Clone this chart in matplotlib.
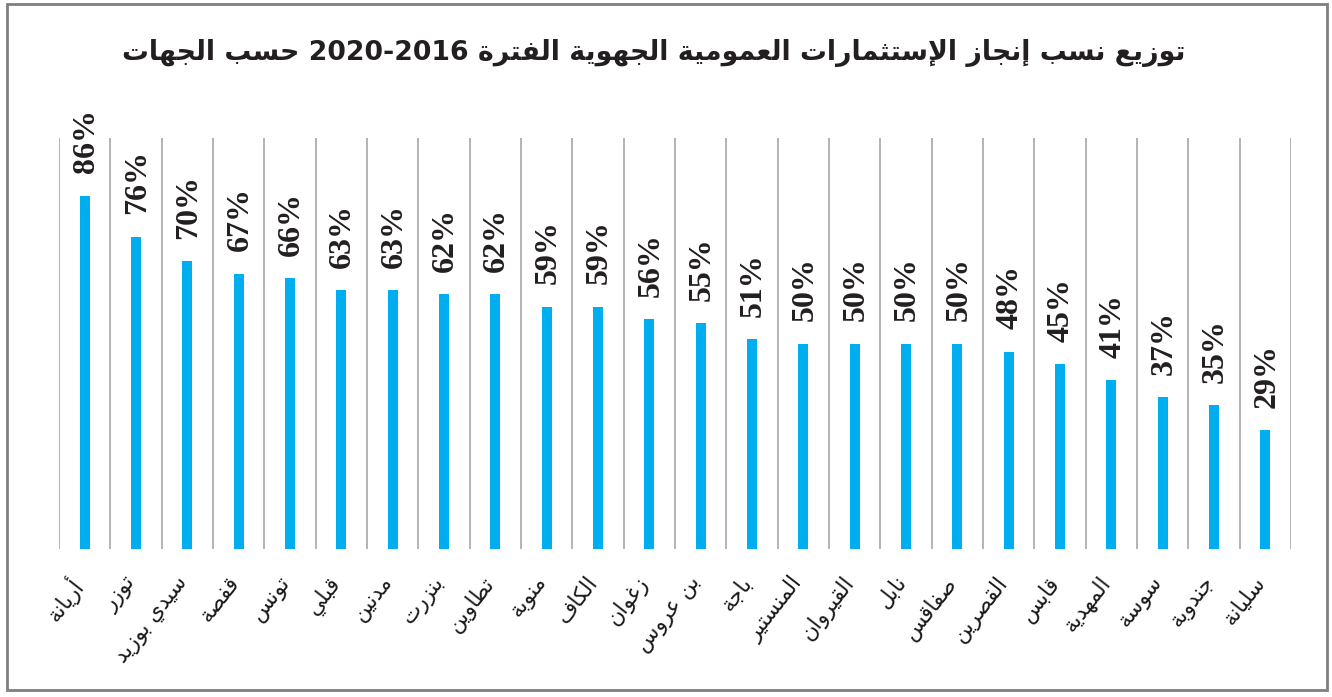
import re
import numpy as np
import matplotlib
matplotlib.use("Agg")
import matplotlib.pyplot as plt
from matplotlib.patches import Rectangle

# ---------------- data ----------------
title_text = "توزيع نسب إنجاز الإستثمارات العمومية الجهوية الفترة 2016-2020 حسب الجهات"
categories = ["أريانة", "توزر", "سيدي بوزيد", "قفصة", "تونس", "قبلي", "مدنين", "بنزرت",
              "تطاوين", "منوبة", "الكاف", "زغوان", "بن عروس", "باجة", "المنستير", "القيروان",
              "نابل", "صفاقس", "القصرين", "قابس", "المهدية", "سوسة", "جندوبة", "سليانة"]
values = [86, 76, 70, 67, 66, 63, 63, 62, 62, 59, 59, 56, 55, 51, 50, 50, 50, 50, 48, 45, 41, 37, 35, 29]
value_labels = [f"{v}%" for v in values]

# ---------------- minimal Arabic shaping (presentation forms) ----------------
FORMS = {
    'ء': (0xFE80,), 'آ': (0xFE81, 0xFE82), 'أ': (0xFE83, 0xFE84), 'ؤ': (0xFE85, 0xFE86),
    'إ': (0xFE87, 0xFE88), 'ئ': (0xFE89, 0xFE8A, 0xFE8B, 0xFE8C), 'ا': (0xFE8D, 0xFE8E),
    'ب': (0xFE8F, 0xFE90, 0xFE91, 0xFE92), 'ة': (0xFE93, 0xFE94),
    'ت': (0xFE95, 0xFE96, 0xFE97, 0xFE98), 'ث': (0xFE99, 0xFE9A, 0xFE9B, 0xFE9C),
    'ج': (0xFE9D, 0xFE9E, 0xFE9F, 0xFEA0), 'ح': (0xFEA1, 0xFEA2, 0xFEA3, 0xFEA4),
    'خ': (0xFEA5, 0xFEA6, 0xFEA7, 0xFEA8), 'د': (0xFEA9, 0xFEAA), 'ذ': (0xFEAB, 0xFEAC),
    'ر': (0xFEAD, 0xFEAE), 'ز': (0xFEAF, 0xFEB0), 'س': (0xFEB1, 0xFEB2, 0xFEB3, 0xFEB4),
    'ش': (0xFEB5, 0xFEB6, 0xFEB7, 0xFEB8), 'ص': (0xFEB9, 0xFEBA, 0xFEBB, 0xFEBC),
    'ض': (0xFEBD, 0xFEBE, 0xFEBF, 0xFEC0), 'ط': (0xFEC1, 0xFEC2, 0xFEC3, 0xFEC4),
    'ظ': (0xFEC5, 0xFEC6, 0xFEC7, 0xFEC8), 'ع': (0xFEC9, 0xFECA, 0xFECB, 0xFECC),
    'غ': (0xFECD, 0xFECE, 0xFECF, 0xFED0), 'ف': (0xFED1, 0xFED2, 0xFED3, 0xFED4),
    'ق': (0xFED5, 0xFED6, 0xFED7, 0xFED8), 'ك': (0xFED9, 0xFEDA, 0xFEDB, 0xFEDC),
    'ل': (0xFEDD, 0xFEDE, 0xFEDF, 0xFEE0), 'م': (0xFEE1, 0xFEE2, 0xFEE3, 0xFEE4),
    'ن': (0xFEE5, 0xFEE6, 0xFEE7, 0xFEE8), 'ه': (0xFEE9, 0xFEEA, 0xFEEB, 0xFEEC),
    'و': (0xFEED, 0xFEEE), 'ى': (0xFEEF, 0xFEF0), 'ي': (0xFEF1, 0xFEF2, 0xFEF3, 0xFEF4),
}
LAMALEF = {'آ': (0xFEF5, 0xFEF6), 'أ': (0xFEF7, 0xFEF8), 'إ': (0xFEF9, 0xFEFA), 'ا': (0xFEFB, 0xFEFC)}


def _joins_prev(t):
    return isinstance(t, tuple) or (t in FORMS and len(FORMS[t]) >= 2)


def _joins_next(t):
    return (not isinstance(t, tuple)) and t in FORMS and len(FORMS[t]) == 4


def shape_line(s):
    toks = []
    i = 0
    while i < len(s):
        c = s[i]
        if c == 'ل' and i + 1 < len(s) and s[i + 1] in LAMALEF:
            toks.append(('LA', s[i + 1]))
            i += 2
        else:
            toks.append(c)
            i += 1
    out = []
    n = len(toks)
    for k, t in enumerate(toks):
        pc = k > 0 and _joins_next(toks[k - 1]) and _joins_prev(t)
        nc = _joins_next(t) and k + 1 < n and _joins_prev(toks[k + 1])
        if isinstance(t, tuple):
            f = LAMALEF[t[1]]
            out.append(chr(f[1] if pc else f[0]))
        elif t in FORMS:
            f = FORMS[t]
            if len(f) == 1:
                out.append(chr(f[0]))
            elif len(f) == 2:
                out.append(chr(f[1] if pc else f[0]))
            else:
                idx = {(False, False): 0, (True, False): 1, (False, True): 2, (True, True): 3}[(pc, nc)]
                out.append(chr(f[idx]))
        else:
            out.append(t)
    vis = "".join(out)[::-1]
    vis = re.sub(r'[0-9]+', lambda m: m.group()[::-1], vis)
    return vis


def ar(s):
    return "\n".join(shape_line(line) for line in s.split("\n"))


# ---------------- figure ----------------
W, H = 1332, 697
fig = plt.figure(figsize=(W / 100, H / 100), dpi=100)
fig.patch.set_facecolor("white")

ax = fig.add_axes([59 / W, 1 - 549 / H, (1291 - 59) / W, (549 - 138) / H])
n = len(categories)
x = np.arange(n)
ax.bar(x, values, width=0.2, color="#00AEEF", zorder=3)
ax.set_xlim(-0.5, n - 0.5)
ax.set_ylim(0, 100)

ax.set_xticks(np.arange(-0.5, n, 1.0), minor=True)
ax.set_xticks(x)
ax.set_xticklabels([])
ax.tick_params(which="both", length=0)
ax.set_yticks([])
ax.grid(which="minor", axis="x", color="#b3b3b3", linewidth=1.4, zorder=0)
ax.grid(which="major", visible=False)
for sp in ax.spines.values():
    sp.set_visible(False)

AR_FONT = ["DejaVu Sans"]
for xi, cat in zip(x, categories):
    ax.annotate(ar(cat), xy=(xi, 0), xycoords=("data", "axes fraction"),
                xytext=(3, -17), textcoords="offset points",
                rotation=52, ha="right", va="top",
                fontsize=15.5, family=AR_FONT, color="#1a1a1a")

for xi, v, lab in zip(x, values, value_labels):
    ax.annotate(lab, xy=(xi, v), xytext=(1, 16), textcoords="offset points",
                rotation=90, ha="center", va="bottom",
                fontsize=23, fontweight="bold", family=["Liberation Serif"], color="#231f20")

fig.text(654 / W, 1 - 53 / H, ar(title_text), ha="center", va="center",
         fontsize=19.3, fontweight="bold", family=AR_FONT, color="#231f20")

fig.patches.append(Rectangle((7 / W, 1 - 690 / H), (1327 - 7) / W, (690 - 4) / H,
                             transform=fig.transFigure, fill=False,
                             edgecolor="#7f7f7f", linewidth=2))

fig.savefig("out.png", dpi=100)
